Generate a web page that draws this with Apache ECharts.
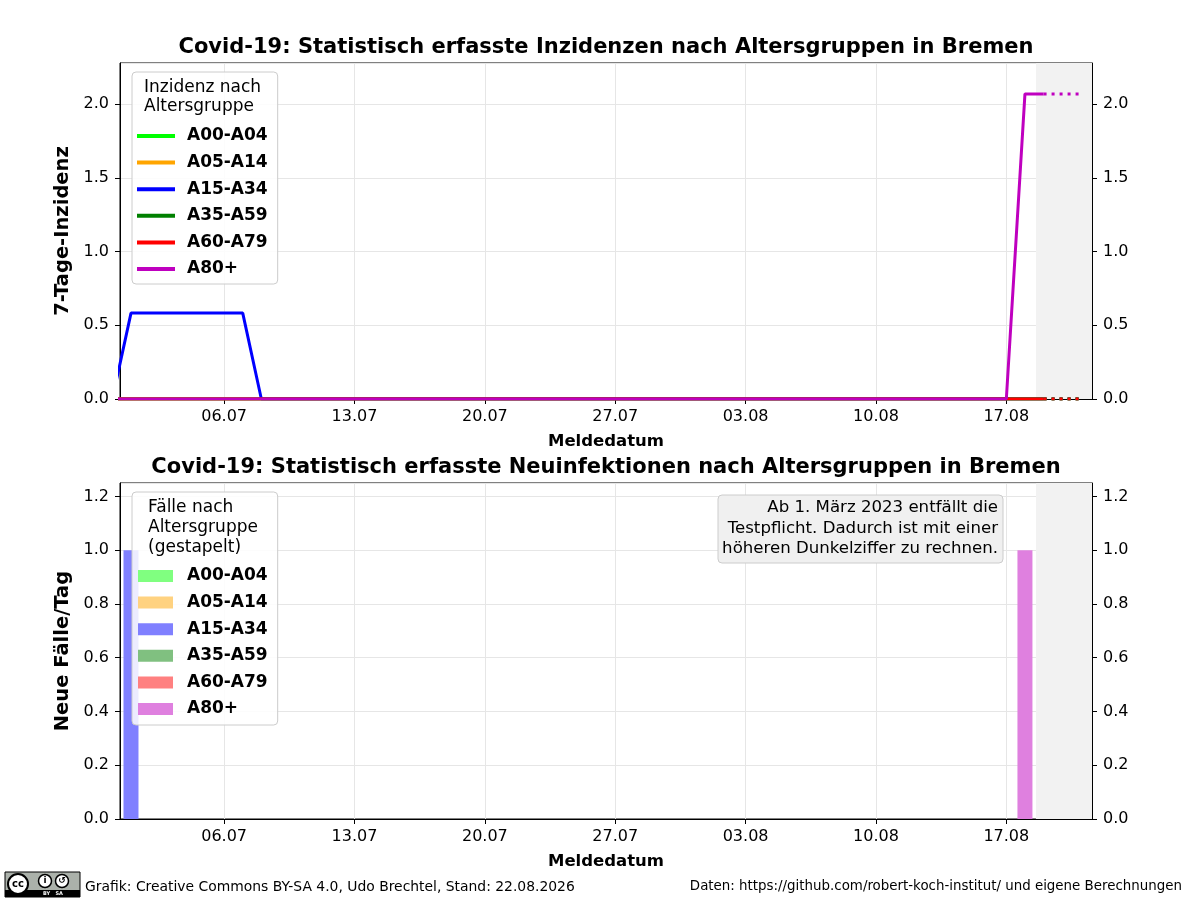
<!DOCTYPE html>
<html>
<head>
<meta charset="utf-8">
<script src="https://cdn.jsdelivr.net/npm/echarts@6/dist/echarts.min.js"></script>
<style>
  html, body { margin: 0; padding: 0; background: #fff; }
  #main { width: 1200px; height: 900px; }
</style>
</head>
<body>
<div id="main"></div>
<script>
// Tage 30.06 bis 21.08
var dates = ['30.06',
  '01.07','02.07','03.07','04.07','05.07','06.07','07.07','08.07','09.07','10.07',
  '11.07','12.07','13.07','14.07','15.07','16.07','17.07','18.07','19.07','20.07',
  '21.07','22.07','23.07','24.07','25.07','26.07','27.07','28.07','29.07','30.07','31.07',
  '01.08','02.08','03.08','04.08','05.08','06.08','07.08','08.08','09.08','10.08',
  '11.08','12.08','13.08','14.08','15.08','16.08','17.08','18.08','19.08','20.08','21.08'];
var tickLabels = ['06.07', '13.07', '20.07', '27.07', '03.08', '10.08', '17.08'];
var groups = ['A00-A04', 'A05-A14', 'A15-A34', 'A35-A59', 'A60-A79', 'A80+'];
var lineColors = ['#00ff00', '#ffa500', '#0000ff', '#008000', '#ff0000', '#bf00bf'];
var barColors = ['#80ff80', '#ffd280', '#8080ff', '#80c080', '#ff8080', '#df80df'];

// 7-Tage-Inzidenz, 30.06 .. 19.08
var inzA00 = [0,0,0,0,0,0,0,0,0,0, 0,0,0,0,0,0,0,0,0,0, 0,0,0,0,0,0,0,0,0,0, 0,0,0,0,0,0,0,0,0,0, 0,0,0,0,0,0,0,0,0,0, 0];
var inzA05 = [0,0,0,0,0,0,0,0,0,0, 0,0,0,0,0,0,0,0,0,0, 0,0,0,0,0,0,0,0,0,0, 0,0,0,0,0,0,0,0,0,0, 0,0,0,0,0,0,0,0,0,0, 0];
var inzA15 = [0,0.583,0.583,0.583,0.583,0.583,0.583,0.583,0,0, 0,0,0,0,0,0,0,0,0,0, 0,0,0,0,0,0,0,0,0,0, 0,0,0,0,0,0,0,0,0,0, 0,0,0,0,0,0,0,0,0,0, 0];
var inzA35 = [0,0,0,0,0,0,0,0,0,0, 0,0,0,0,0,0,0,0,0,0, 0,0,0,0,0,0,0,0,0,0, 0,0,0,0,0,0,0,0,0,0, 0,0,0,0,0,0,0,0,0,0, 0];
var inzA60 = [0,0,0,0,0,0,0,0,0,0, 0,0,0,0,0,0,0,0,0,0, 0,0,0,0,0,0,0,0,0,0, 0,0,0,0,0,0,0,0,0,0, 0,0,0,0,0,0,0,0,0,0, 0];
var inzA80 = [0,0,0,0,0,0,0,0,0,0, 0,0,0,0,0,0,0,0,0,0, 0,0,0,0,0,0,0,0,0,0, 0,0,0,0,0,0,0,0,0,0, 0,0,0,0,0,0,0,0,0,2.07, 2.07];
// Fortschreibung 19.08 .. 21.08 (gepunktet)
var progA00 = [0, 0, 0];
var progA05 = [0, 0, 0];
var progA15 = [0, 0, 0];
var progA35 = [0, 0, 0];
var progA60 = [0, 0, 0];
var progA80 = [2.07, 2.07, 2.07];
var progStart = 50;

// Neue Fälle pro Tag, 30.06 .. 19.08
var faelleA00 = [0,0,0,0,0,0,0,0,0,0, 0,0,0,0,0,0,0,0,0,0, 0,0,0,0,0,0,0,0,0,0, 0,0,0,0,0,0,0,0,0,0, 0,0,0,0,0,0,0,0,0,0, 0];
var faelleA05 = [0,0,0,0,0,0,0,0,0,0, 0,0,0,0,0,0,0,0,0,0, 0,0,0,0,0,0,0,0,0,0, 0,0,0,0,0,0,0,0,0,0, 0,0,0,0,0,0,0,0,0,0, 0];
var faelleA15 = [0,1,0,0,0,0,0,0,0,0, 0,0,0,0,0,0,0,0,0,0, 0,0,0,0,0,0,0,0,0,0, 0,0,0,0,0,0,0,0,0,0, 0,0,0,0,0,0,0,0,0,0, 0];
var faelleA35 = [0,0,0,0,0,0,0,0,0,0, 0,0,0,0,0,0,0,0,0,0, 0,0,0,0,0,0,0,0,0,0, 0,0,0,0,0,0,0,0,0,0, 0,0,0,0,0,0,0,0,0,0, 0];
var faelleA60 = [0,0,0,0,0,0,0,0,0,0, 0,0,0,0,0,0,0,0,0,0, 0,0,0,0,0,0,0,0,0,0, 0,0,0,0,0,0,0,0,0,0, 0,0,0,0,0,0,0,0,0,0, 0];
var faelleA80 = [0,0,0,0,0,0,0,0,0,0, 0,0,0,0,0,0,0,0,0,0, 0,0,0,0,0,0,0,0,0,0, 0,0,0,0,0,0,0,0,0,0, 0,0,0,0,0,0,0,0,0,1, 0];

var inzidenz = [inzA00, inzA05, inzA15, inzA35, inzA60, inzA80];
var prognose = [progA00, progA05, progA15, progA35, progA60, progA80];
var faelle = [faelleA00, faelleA05, faelleA15, faelleA35, faelleA60, faelleA80];

var xMin = 0.41, xMax = 52.6, greyStart = 49.59;
var FONT = '"DejaVu Sans", sans-serif';
var tickDays = tickLabels.map(function (l) { return dates.indexOf(l); });

function xAxisCfg(gridIndex) {
  return {
    type: 'value', gridIndex: gridIndex, min: xMin, max: xMax,
    name: 'Meldedatum', nameLocation: 'middle', nameGap: 34,
    nameTextStyle: { fontFamily: FONT, fontWeight: 'bold', fontSize: 16.5, color: '#000' },
    axisLine: { show: true, lineStyle: { color: '#000', width: 1 } },
    axisTick: { show: true, length: 5, customValues: tickDays, lineStyle: { color: '#000' } },
    axisLabel: { customValues: tickDays, margin: 10, fontFamily: FONT, fontSize: 16, color: '#000',
      formatter: function (v) { return dates[Math.round(v)] || ''; } },
    splitLine: { show: true, lineStyle: { color: '#e6e6e6', width: 1 } }
  };
}
function yAxisCfg(gridIndex, max, interval, position, name) {
  return {
    type: 'value', gridIndex: gridIndex, min: 0, max: max, interval: interval, position: position,
    name: name, nameLocation: 'middle', nameGap: 42, nameRotate: 90,
    nameTextStyle: { fontFamily: FONT, fontWeight: 'bold', fontSize: 19.5, color: '#000' },
    axisLine: { show: true, lineStyle: { color: '#000', width: 1 } },
    axisTick: { show: true, length: 5, lineStyle: { color: '#000' } },
    axisLabel: { margin: 11, fontFamily: FONT, fontSize: 16, color: '#000', showMaxLabel: false,
      formatter: function (v) { return v.toFixed(1); } },
    splitLine: { show: position === 'left', lineStyle: { color: '#e6e6e6', width: 1 } }
  };
}

var series = [];
groups.forEach(function (g, k) {
  var s = {
    name: g, type: 'line', xAxisIndex: 0, yAxisIndex: 0,
    data: inzidenz[k].map(function (v, i) { return [i, v]; }),
    showSymbol: false, symbol: 'none', color: lineColors[k],
    lineStyle: { width: 3, color: lineColors[k] }, z: 3 + k
  };
  if (k === 0) {
    s.markArea = { silent: true, itemStyle: { color: '#f2f2f2' },
      data: [[{ xAxis: greyStart }, { xAxis: xMax }]] };
  }
  series.push(s);
});
groups.forEach(function (g, k) {
  series.push({
    name: g + ' Fortschreibung', type: 'line', xAxisIndex: 0, yAxisIndex: 0,
    data: prognose[k].map(function (v, i) { return [progStart + i, v]; }),
    showSymbol: false, symbol: 'none', color: lineColors[k],
    lineStyle: { width: 3, color: lineColors[k], type: [3, 5] }, z: 3 + k
  });
});
groups.forEach(function (g, k) {
  var s = {
    name: 'Fälle ' + g, type: 'bar', stack: 'faelle', xAxisIndex: 1, yAxisIndex: 2,
    data: faelle[k].map(function (v, i) { return [i, v]; }),
    barWidth: 15, color: barColors[k], itemStyle: { color: barColors[k] }
  };
  if (k === 0) {
    s.markArea = { silent: true, itemStyle: { color: '#f2f2f2' },
      data: [[{ xAxis: greyStart }, { xAxis: xMax }]] };
  }
  series.push(s);
});

var legendText = { fontFamily: FONT, fontWeight: 'bold', fontSize: 17, color: '#000', lineHeight: 20 };

function txt(text, x, y, font, align, extra) {
  var st = { text: text, x: x, y: y, font: font, fill: '#000', textAlign: align || 'left', textVerticalAlign: 'middle' };
  if (extra) { for (var key in extra) st[key] = extra[key]; }
  return { type: 'text', z: 100, style: st };
}

var chart = echarts.init(document.getElementById('main'), null, { renderer: 'canvas' });
chart.setOption({
  animation: false,
  backgroundColor: '#fff',
  grid: [
    { left: 120, right: 108, top: 63, height: 336, show: true, borderColor: '#000', borderWidth: 1 },
    { left: 120, right: 108, top: 483, height: 336, show: true, borderColor: '#000', borderWidth: 1 }
  ],
  xAxis: [xAxisCfg(0), xAxisCfg(1)],
  yAxis: [
    yAxisCfg(0, 2.28, 0.5, 'left', '7-Tage-Inzidenz'),
    yAxisCfg(0, 2.28, 0.5, 'right', ''),
    yAxisCfg(1, 1.25, 0.2, 'left', 'Neue Fälle/Tag'),
    yAxisCfg(1, 1.25, 0.2, 'right', '')
  ],
  legend: [
    {
      data: groups, orient: 'vertical', left: 132, top: 72,
      padding: [54, 10, 5, 5], itemGap: 6.6, itemWidth: 38, itemHeight: 4, icon: 'rect',
      backgroundColor: 'rgba(255,255,255,0.85)', borderColor: '#cccccc', borderWidth: 1, borderRadius: 4,
      textStyle: Object.assign({ padding: [0, 0, 0, 7] }, legendText), selectedMode: false
    },
    {
      data: groups.map(function (g) { return 'Fälle ' + g; }), orient: 'vertical', left: 132, top: 492,
      padding: [74, 10, 6, 6], itemGap: 6.6, itemWidth: 35, itemHeight: 12, icon: 'rect',
      backgroundColor: 'rgba(255,255,255,0.85)', borderColor: '#cccccc', borderWidth: 1, borderRadius: 4,
      formatter: function (n) { return n.replace('Fälle ', ''); },
      textStyle: Object.assign({ padding: [0, 0, 0, 9] }, legendText), selectedMode: false
    }
  ],
  series: series,
  graphic: [
    txt('Covid-19: Statistisch erfasste Inzidenzen nach Altersgruppen in Bremen', 606, 48, 'bold 21px ' + FONT, 'center'),
    txt('Covid-19: Statistisch erfasste Neuinfektionen nach Altersgruppen in Bremen', 606, 468, 'bold 21px ' + FONT, 'center'),
    txt('Inzidenz nach', 144, 88, '17px ' + FONT),
    txt('Altersgruppe', 144, 107, '17px ' + FONT),
    txt('Fälle nach', 148, 508, '17px ' + FONT),
    txt('Altersgruppe', 148, 528, '17px ' + FONT),
    txt('(gestapelt)', 148, 548, '17px ' + FONT),
    {
      type: 'rect', z: 90, shape: { x: 718, y: 495, width: 285, height: 68, r: 4 },
      style: { fill: '#f0f0f0', stroke: '#cccccc', lineWidth: 1 }
    },
    txt('Ab 1. März 2023 entfällt die', 998, 508, '16.6px ' + FONT, 'right'),
    txt('Testpflicht. Dadurch ist mit einer', 998, 529, '16.6px ' + FONT, 'right'),
    txt('höheren Dunkelziffer zu rechnen.', 998, 549, '16.6px ' + FONT, 'right'),
    // CC BY-SA Logo
    { type: 'rect', z: 90, shape: { x: 5, y: 872, width: 75, height: 25 }, style: { fill: '#abb1aa', stroke: '#000', lineWidth: 1 } },
    { type: 'rect', z: 91, shape: { x: 5, y: 890, width: 75, height: 7 }, style: { fill: '#000' } },
    { type: 'circle', z: 92, shape: { cx: 18, cy: 884, r: 10 }, style: { fill: '#fff', stroke: '#000', lineWidth: 2 } },
    txt('cc', 18, 884, 'bold 10px ' + FONT, 'center'),
    { type: 'circle', z: 92, shape: { cx: 45, cy: 881, r: 6.5 }, style: { fill: '#fff', stroke: '#000', lineWidth: 1.5 } },
    txt('i', 45, 881, 'bold 9px ' + FONT, 'center'),
    { type: 'circle', z: 92, shape: { cx: 62, cy: 881, r: 6.5 }, style: { fill: '#fff', stroke: '#000', lineWidth: 1.5 } },
    txt('↺', 62, 881, 'bold 9px ' + FONT, 'center'),
    txt('BY   SA', 53, 894, 'bold 5px ' + FONT, 'center', { fill: '#fff' }),
    txt('Grafik: Creative Commons BY-SA 4.0, Udo Brechtel, Stand: 22.08.2026', 85, 887, '13.9px ' + FONT),
    txt('Daten: https://github.com/robert-koch-institut/ und eigene Berechnungen', 1182, 887, '13.4px ' + FONT, 'right')
  ]
});
</script>
</body>
</html>
